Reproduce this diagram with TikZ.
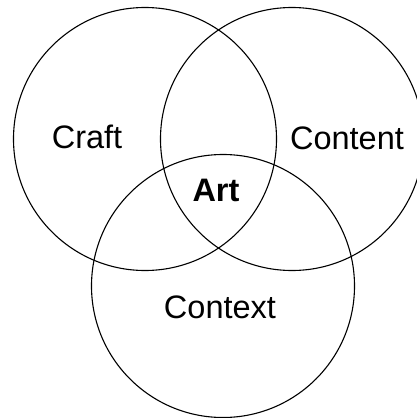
\documentclass[tikz,border=0pt]{standalone}
\usepackage{fontspec}
\setmainfont{Liberation Sans}
\begin{document}
\begin{tikzpicture}[x=1pt,y=-1pt,
  ring/.style={circle,draw=black,line width=1.1pt,minimum size=263pt,inner sep=0pt},
  lbl/.style={anchor=base,inner sep=0pt,font=\fontsize{32.5}{39}\selectfont}]
\useasboundingbox (0,0) rectangle (416,418);
\node[ring] (craftc) at (145,139) {};
\node[ring] (contentc) at (292,139) {};
\node[ring] (contextc) at (223,286) {};
\node[lbl] (craft) at (87,148.3) {Craft};
\node[lbl] (content) at (347,149.3) {Content};
\node[lbl,font=\fontsize{32.5}{39}\selectfont\bfseries] (art) at (216,201.7) {Art};
\node[lbl] (context) at (220,318.3) {Context};
\end{tikzpicture}
\end{document}
